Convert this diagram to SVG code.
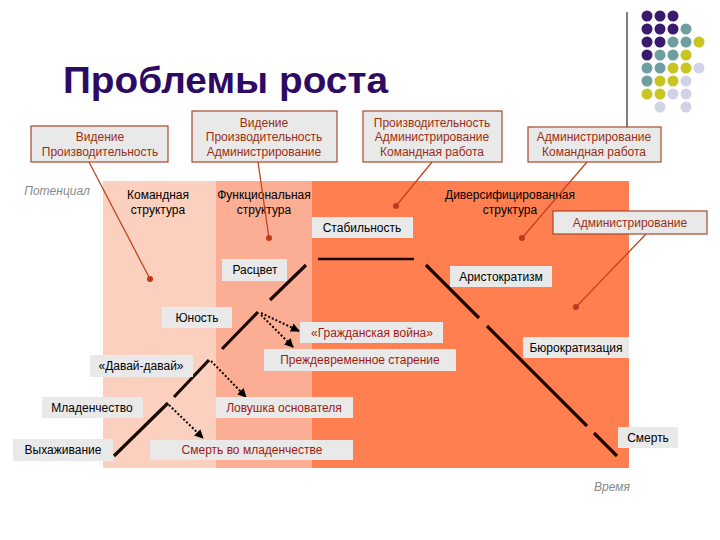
<svg xmlns="http://www.w3.org/2000/svg" width="720" height="540" viewBox="0 0 720 540">
<style>
text{font-family:"Liberation Sans",Arial,sans-serif;font-size:12px;text-anchor:middle;fill:#000}
.title{font-size:37px;font-weight:bold;fill:#2E0B63;text-anchor:start}
.axis{font-style:italic;fill:#8a8a8a}
.box{fill:#E9E9E9}
.cbox{fill:#E9E9E9;stroke:#A8472A;stroke-width:1.2}
.ctext{fill:#9A2E12}
.red{fill:#A01A10}
.leader{stroke:#C0451E;stroke-width:1.3;fill:none}
.ldot{fill:#C0391A}
.life{stroke:#1A0800;stroke-width:3.2;fill:none}
.dot{stroke:#000;stroke-width:2;stroke-dasharray:2 2;fill:none;marker-end:url(#ah)}
.p{fill:#3A1A6E}.t{fill:#6E9EA0}.y{fill:#C8C422}.l{fill:#D2D2E6}
</style>
<defs>
<marker id="ah" viewBox="0 0 10 10" refX="9" refY="5" markerWidth="4.5" markerHeight="4.5" orient="auto" markerUnits="strokeWidth">
<path d="M0,0 L10,5 L0,10 z" fill="#000"/>
</marker>
</defs>
<rect width="720" height="540" fill="#fff"/>

<g id="decor">
<line x1="627" y1="12" x2="627" y2="127" stroke="#000" stroke-width="1"/>
<circle class="p" cx="647" cy="16" r="5.5"/><circle class="p" cx="660" cy="16" r="5.5"/><circle class="p" cx="673" cy="16" r="5.5"/>
<circle class="p" cx="647" cy="29" r="5.5"/><circle class="p" cx="660" cy="29" r="5.5"/><circle class="p" cx="673" cy="29" r="5.5"/><circle class="t" cx="686" cy="29" r="5.5"/>
<circle class="p" cx="647" cy="42" r="5.5"/><circle class="p" cx="660" cy="42" r="5.5"/><circle class="t" cx="673" cy="42" r="5.5"/><circle class="t" cx="686" cy="42" r="5.5"/><circle class="y" cx="699" cy="42" r="5.5"/>
<circle class="p" cx="647" cy="55" r="5.5"/><circle class="t" cx="660" cy="55" r="5.5"/><circle class="t" cx="673" cy="55" r="5.5"/><circle class="y" cx="686" cy="55" r="5.5"/>
<circle class="t" cx="647" cy="68" r="5.5"/><circle class="t" cx="660" cy="68" r="5.5"/><circle class="y" cx="673" cy="68" r="5.5"/><circle class="y" cx="686" cy="68" r="5.5"/><circle class="l" cx="699" cy="68" r="5.5"/>
<circle class="t" cx="647" cy="81" r="5.5"/><circle class="y" cx="660" cy="81" r="5.5"/><circle class="y" cx="673" cy="81" r="5.5"/><circle class="l" cx="686" cy="81" r="5.5"/>
<circle class="y" cx="647" cy="94" r="5.5"/><circle class="y" cx="660" cy="94" r="5.5"/><circle class="l" cx="673" cy="94" r="5.5"/><circle class="l" cx="686" cy="94" r="5.5"/>
<circle class="l" cx="660" cy="107" r="5.5"/><circle class="l" cx="686" cy="107" r="5.5"/>
</g>

<text class="title" x="63" y="93" textLength="325" lengthAdjust="spacingAndGlyphs">Проблемы роста</text>

<g id="zones">
<rect x="103" y="181" width="113" height="287" fill="#FCD0BF"/>
<rect x="216" y="181" width="96" height="287" fill="#FBAE93"/>
<rect x="312" y="181" width="317" height="287" fill="#FF7F50"/>
</g>

<text class="axis" x="57" y="195">Потенциал</text>
<text class="axis" x="612" y="491">Время</text>

<g id="structures">
<text x="158" y="199">Командная</text><text x="158" y="214">структура</text>
<text x="264" y="199">Функциональная</text><text x="264" y="214">структура</text>
<text x="510" y="199">Диверсифицированная</text><text x="510" y="214">структура</text>
</g>

<g id="lifecycle">
<line class="life" x1="306" y1="265" x2="270" y2="300"/>
<line class="life" x1="318" y1="259" x2="414" y2="259" style="stroke-width:2.5"/>
<line class="life" x1="426" y1="265" x2="479" y2="318"/>
<line class="life" x1="487" y1="326" x2="587" y2="426"/>
<line class="life" x1="594" y1="433" x2="617" y2="456"/>
<line class="life" x1="258" y1="312" x2="222" y2="349"/>
<line class="life" x1="209" y1="360" x2="174" y2="397"/>
<line class="life" x1="168" y1="403" x2="114" y2="456"/>
</g>

<g id="connectors">
<line class="dot" x1="261" y1="313" x2="299" y2="331"/>
<line class="dot" x1="261" y1="315" x2="293" y2="347"/>
<line class="dot" x1="211" y1="361" x2="246" y2="397"/>
<line class="dot" x1="169" y1="405" x2="203" y2="438"/>
</g>

<g id="n-stab"><rect class="box" x="312" y="217" width="101" height="21"/><text x="362" y="232">Стабильность</text></g>
<g id="n-rascvet"><rect class="box" x="222" y="259" width="65" height="22"/><text x="255" y="274">Расцвет</text></g>
<g id="n-aristo"><rect class="box" x="450" y="266" width="102" height="21"/><text x="501" y="281">Аристократизм</text></g>
<g id="n-yunost"><rect class="box" x="162" y="307" width="70" height="21"/><text x="197" y="322">Юность</text></g>
<g id="n-war"><rect class="box" x="300" y="322" width="143" height="21"/><text class="red" x="372" y="337">«Гражданская война»</text></g>
<g id="n-old"><rect class="box" x="264" y="349" width="192" height="22"/><text class="red" x="360" y="364">Преждевременное старение</text></g>
<g id="n-davai"><rect class="box" x="90" y="355" width="103" height="22"/><text x="141" y="370">«Давай-давай»</text></g>
<g id="n-trap"><rect class="box" x="216" y="397" width="137" height="21"/><text class="red" x="284" y="412">Ловушка основателя</text></g>
<g id="n-infant"><rect class="box" x="42" y="397" width="101" height="21"/><text x="92" y="412">Младенчество</text></g>
<g id="n-nurse"><rect class="box" x="13" y="439" width="100" height="22"/><text x="63" y="454">Выхаживание</text></g>
<g id="n-infdeath"><rect class="box" x="150" y="440" width="203" height="20"/><text class="red" x="252" y="454">Смерть во младенчестве</text></g>
<g id="n-bureau"><rect class="box" x="523" y="337" width="106" height="21"/><text x="576" y="352">Бюрократизация</text></g>
<g id="n-death"><rect class="box" x="618" y="427" width="60" height="21"/><text x="648" y="442">Смерть</text></g>

<g id="callouts">
<g id="c1"><rect class="cbox" x="31" y="126" width="137" height="36"/><text class="ctext" x="100" y="141">Видение</text><text class="ctext" x="100" y="156">Производительность</text></g>
<g id="c2"><rect class="cbox" x="192" y="111" width="145" height="51"/><text class="ctext" x="264" y="127">Видение</text><text class="ctext" x="264" y="141">Производительность</text><text class="ctext" x="264" y="156">Администрирование</text></g>
<g id="c3"><rect class="cbox" x="363" y="111" width="139" height="51"/><text class="ctext" x="432" y="127">Производительность</text><text class="ctext" x="432" y="141">Администрирование</text><text class="ctext" x="432" y="156">Командная работа</text></g>
<g id="c4"><rect class="cbox" x="528" y="127" width="133" height="35"/><text class="ctext" x="594" y="141">Администрирование</text><text class="ctext" x="594" y="156">Командная работа</text></g>
<g id="c5"><rect class="cbox" x="553" y="211" width="154" height="23"/><text class="ctext" x="630" y="227">Администрирование</text></g>
</g>

<g id="leaders">
<line class="leader" x1="89" y1="162" x2="150" y2="279"/><circle class="ldot" cx="150" cy="279" r="3"/>
<line class="leader" x1="258" y1="162" x2="269" y2="238"/><circle class="ldot" cx="269" cy="238" r="3"/>
<line class="leader" x1="432" y1="162" x2="396" y2="206"/><circle class="ldot" cx="396" cy="206" r="3"/>
<line class="leader" x1="587" y1="162" x2="522" y2="238"/><circle class="ldot" cx="522" cy="238" r="3"/>
<line class="leader" x1="646" y1="234" x2="576" y2="307"/><circle class="ldot" cx="576" cy="307" r="3"/>
</g>
</svg>
